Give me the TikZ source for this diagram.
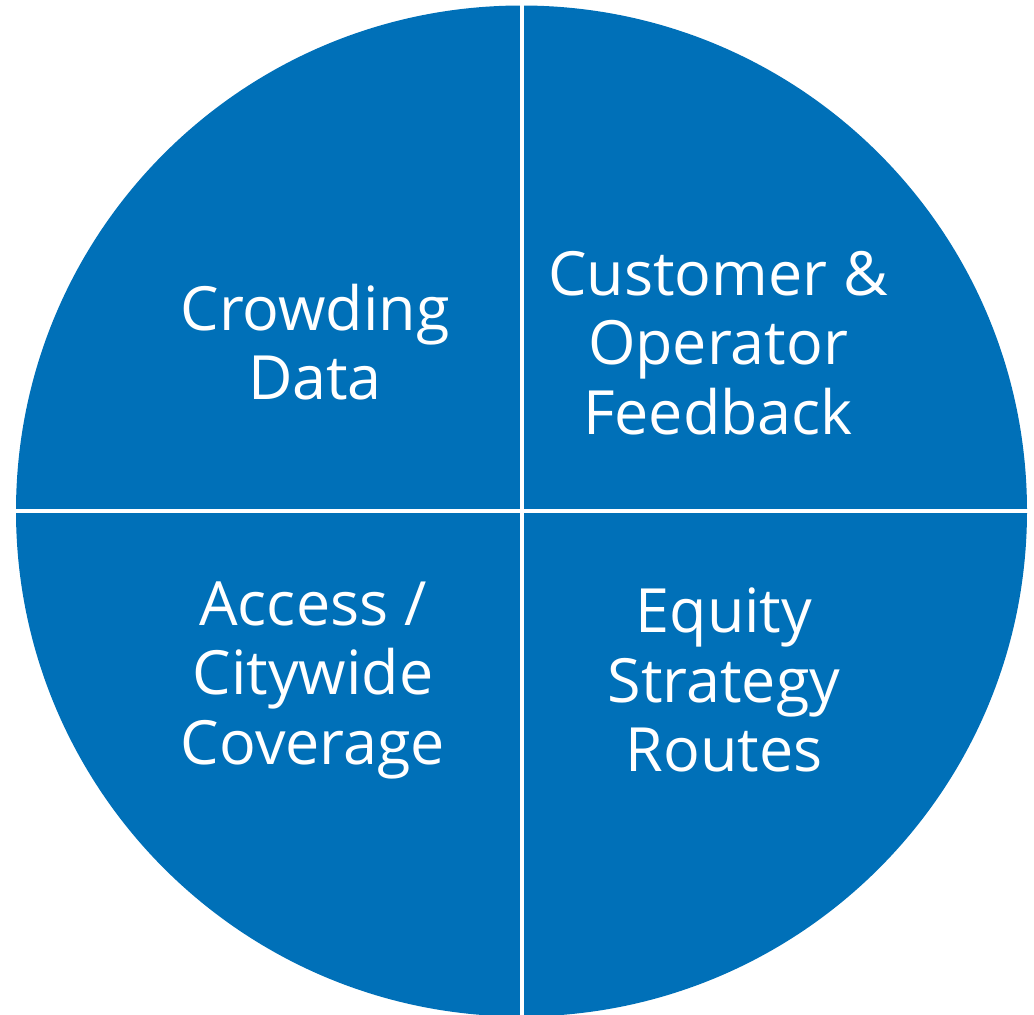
\documentclass[tikz,border=0pt]{standalone}
\usepackage{fontspec}
\setmainfont{Open Sans}
\definecolor{quadblue}{RGB}{0,112,184}
\begin{document}
\begin{tikzpicture}[x=1pt,y=-1pt,
  lbl/.style={text=white,align=center,font=\fontsize{61}{69.5}\selectfont,inner sep=0pt}]
\useasboundingbox (0,0) rectangle (1034,1015);
\coordinate (c) at (521.5,511);
\fill[quadblue] (c) circle[radius=505.5];
\draw[white,line width=4pt] (521.5,0) -- (521.5,1015);
\draw[white,line width=4pt] (0,511) -- (1034,511);
\node[lbl] (crowd) at (315,342) {Crowding\\Data};
\node[lbl] (cust) at (718,343) {Customer \&\\Operator\\Feedback};
\node[lbl] (acc) at (313,680) {Access /\\Citywide\\Coverage};
\node[lbl] (eq) at (724,680) {Equity\\Strategy\\Routes};
\end{tikzpicture}
\end{document}
